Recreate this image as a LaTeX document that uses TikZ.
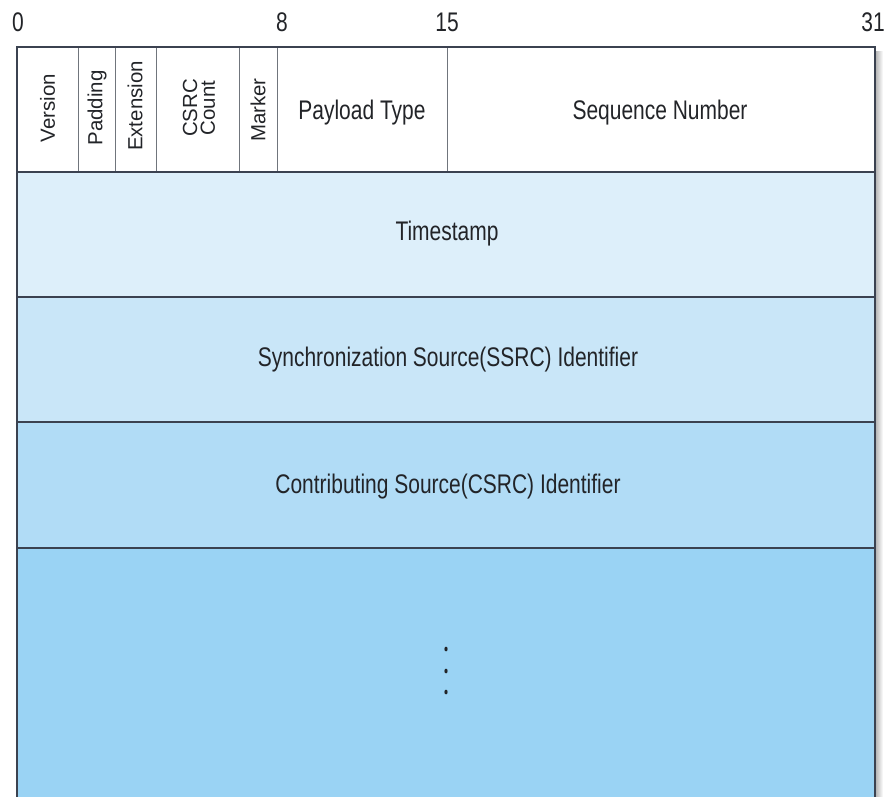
\documentclass[tikz,border=0pt]{standalone}
\usepackage{fontspec}
\setmainfont{Liberation Sans}
\newfontfamily\condfont[FakeStretch=0.78]{Liberation Sans}
\definecolor{frame}{HTML}{3B4250}
\definecolor{divider}{HTML}{70757C}
\definecolor{ink}{HTML}{222428}
\definecolor{rowA}{HTML}{DDEFFA}
\definecolor{rowB}{HTML}{C9E6F8}
\definecolor{rowC}{HTML}{B1DCF6}
\definecolor{rowD}{HTML}{9AD3F4}
\begin{document}
\begin{tikzpicture}[x=1bp,y=-1bp,
  bitlabel/.style={font=\condfont\fontsize{27}{27}\selectfont, inner sep=0, text=ink},
  fieldv/.style={rotate=90, font=\fontsize{20.5}{20}\selectfont, inner sep=0, align=center, text=ink},
  fieldh/.style={font=\condfont\fontsize{27}{30}\selectfont, inner sep=0, text=ink},
  rowline/.style={frame, line width=1.3bp},
  cellline/.style={divider, line width=0.9bp}]
\useasboundingbox (0,0) rectangle (885,797);

% row backgrounds
\fill[rowA] (17,172) rectangle (875,297);
\fill[rowB] (17,297) rectangle (875,422);
\fill[rowC] (17,422) rectangle (875,548);
\fill[rowD] (17,548) rectangle (875,797);

% soft shadow on the right side
\shade[left color=black!28, right color=white] (875.8,52) rectangle (883,797);

% field separators in the first word
\foreach \xx in {78,115,156,239,277,447}
  \draw[cellline] (\xx,47) -- (\xx,172);

% word separators
\foreach \yy in {172,297,422,548}
  \draw[rowline] (17,\yy) -- (875,\yy);

% outer frame, open at the bottom
\draw[frame, line width=1.6bp] (17,797) -- (17,47) -- (875,47) -- (875,797);

% bit positions
\node[bitlabel] (b0)  at (18,22)  {0};
\node[bitlabel] (b8)  at (282,22) {8};
\node[bitlabel] (b15) at (447,22) {15};
\node[bitlabel] (b31) at (873,22) {31};

% header fields
\node[fieldv] (version) at (47.5,108) {Version};
\node[fieldv] (padding) at (97,108)   {Padding};
\node[fieldv] (ext)     at (135,106)  {Extension};
\node[fieldv] (cc)      at (199,108)  {CSRC\\[-2pt]Count};
\node[fieldv] (marker)  at (258,110)  {Marker};
\node[fieldh] (pt)      at (362,113)  {Payload Type};
\node[fieldh] (seq)     at (660,113)  {Sequence Number};

% remaining words
\node[fieldh] (ts)   at (447,234) {Timestamp};
\node[fieldh] (ssrc) at (448,360) {Synchronization Source(SSRC) Identifier};
\node[fieldh] (csrc) at (448,487) {Contributing Source(CSRC) Identifier};

% continuation dots
\foreach \yy in {649,671,692}
  \fill[ink] (446,\yy) ellipse (1.6 and 2.4);
\end{tikzpicture}
\end{document}
